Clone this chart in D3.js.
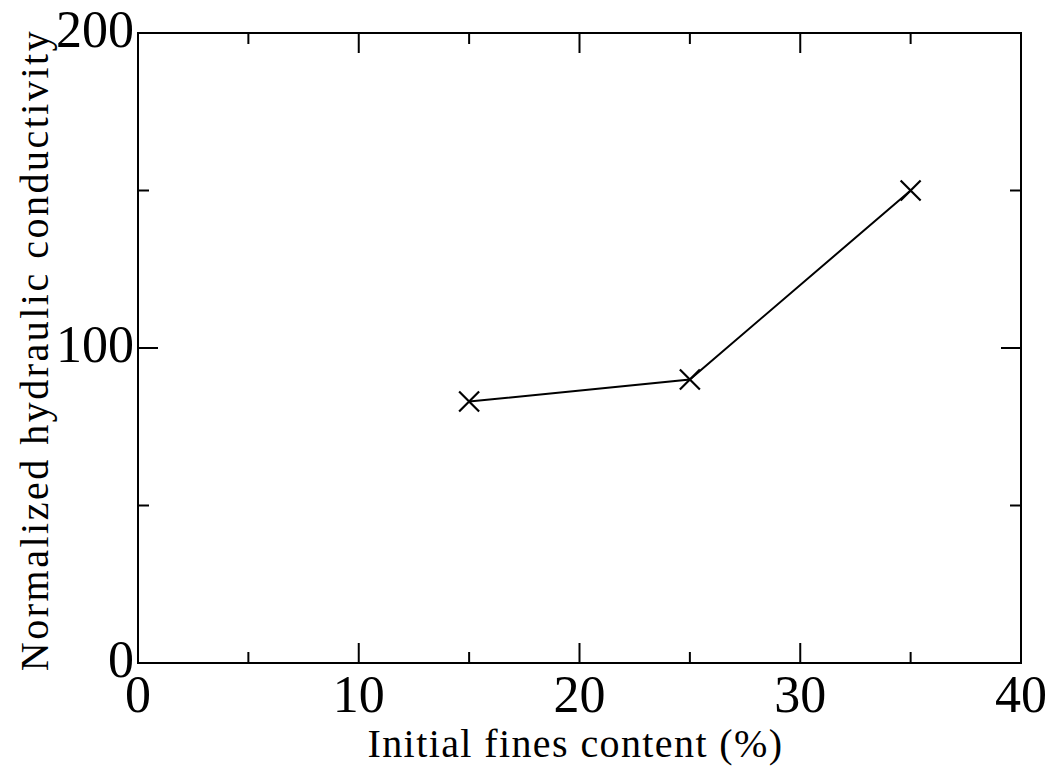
<!DOCTYPE html>
<html><head><meta charset="utf-8">
<script src="https://cdn.jsdelivr.net/npm/d3@7"></script>
<style>body{margin:0;background:#fff}svg{display:block}text{font-family:"Liberation Serif","Times New Roman",serif;fill:#000}</style>
</head><body>
<script>
const fines = [15, 25, 35];
const conductivity = [83, 90, 150];
const xTicks = [0, 10, 20, 30, 40];
const yTicks = [0, 100, 200];
const xMinor = [5, 15, 25, 35];
const yMinor = [50, 150];

const W = 1053, H = 776;
const m = {l: 138, r: 1021, t: 33, b: 663};
const svg = d3.select("body").append("svg").attr("width", W).attr("height", H);
const x = d3.scaleLinear().domain([0, 40]).range([m.l, m.r]);
const y = d3.scaleLinear().domain([0, 200]).range([m.b, m.t]);

const g = svg.append("g");
g.append("rect").attr("x", m.l).attr("y", m.t).attr("width", m.r - m.l).attr("height", m.b - m.t)
  .attr("fill", "none").attr("stroke", "#000").attr("stroke-width", 2);

const tk = (sel) => sel.attr("stroke", "#000").attr("stroke-width", 2);
xTicks.forEach(v => {
  tk(g.append("line").attr("x1", x(v)).attr("x2", x(v)).attr("y1", m.b).attr("y2", m.b - 20));
  tk(g.append("line").attr("x1", x(v)).attr("x2", x(v)).attr("y1", m.t).attr("y2", m.t + 20));
});
xMinor.forEach(v => {
  tk(g.append("line").attr("x1", x(v)).attr("x2", x(v)).attr("y1", m.b).attr("y2", m.b - 11));
  tk(g.append("line").attr("x1", x(v)).attr("x2", x(v)).attr("y1", m.t).attr("y2", m.t + 11));
});
yTicks.forEach(v => {
  tk(g.append("line").attr("y1", y(v)).attr("y2", y(v)).attr("x1", m.l).attr("x2", m.l + 20));
  tk(g.append("line").attr("y1", y(v)).attr("y2", y(v)).attr("x1", m.r).attr("x2", m.r - 20));
});
yMinor.forEach(v => {
  tk(g.append("line").attr("y1", y(v)).attr("y2", y(v)).attr("x1", m.l).attr("x2", m.l + 11));
  tk(g.append("line").attr("y1", y(v)).attr("y2", y(v)).attr("x1", m.r).attr("x2", m.r - 11));
});

xTicks.forEach(v => {
  g.append("text").attr("x", x(v)).attr("y", 712).attr("text-anchor", "middle")
    .attr("font-size", 52).text(v);
});
yTicks.forEach(v => {
  g.append("text").attr("x", 134).attr("y", y(v) + 14).attr("text-anchor", "end")
    .attr("font-size", 52).text(v);
});

g.append("text").attr("x", (m.l + m.r) / 2 - 4).attr("y", 757).attr("text-anchor", "middle")
  .attr("font-size", 40).attr("letter-spacing", 1.4).text("Initial fines content (%)");
g.append("text").attr("transform", `translate(48,${(m.t + m.b) / 2 + 2}) rotate(-90)`)
  .attr("text-anchor", "middle").attr("font-size", 40).attr("letter-spacing", 2.5)
  .text("Normalized hydraulic conductivity");

const pts = fines.map((f, i) => [f, conductivity[i]]);
g.append("path").attr("d", d3.line().x(d => x(d[0])).y(d => y(d[1]))(pts))
  .attr("fill", "none").attr("stroke", "#000").attr("stroke-width", 2);
const s = 10;
pts.forEach(d => {
  const cx = x(d[0]), cy = y(d[1]);
  g.append("path").attr("d", `M${cx - s},${cy - s}L${cx + s},${cy + s}M${cx - s},${cy + s}L${cx + s},${cy - s}`)
    .attr("stroke", "#000").attr("stroke-width", 2.2).attr("fill", "none");
});
</script>
</body></html>
